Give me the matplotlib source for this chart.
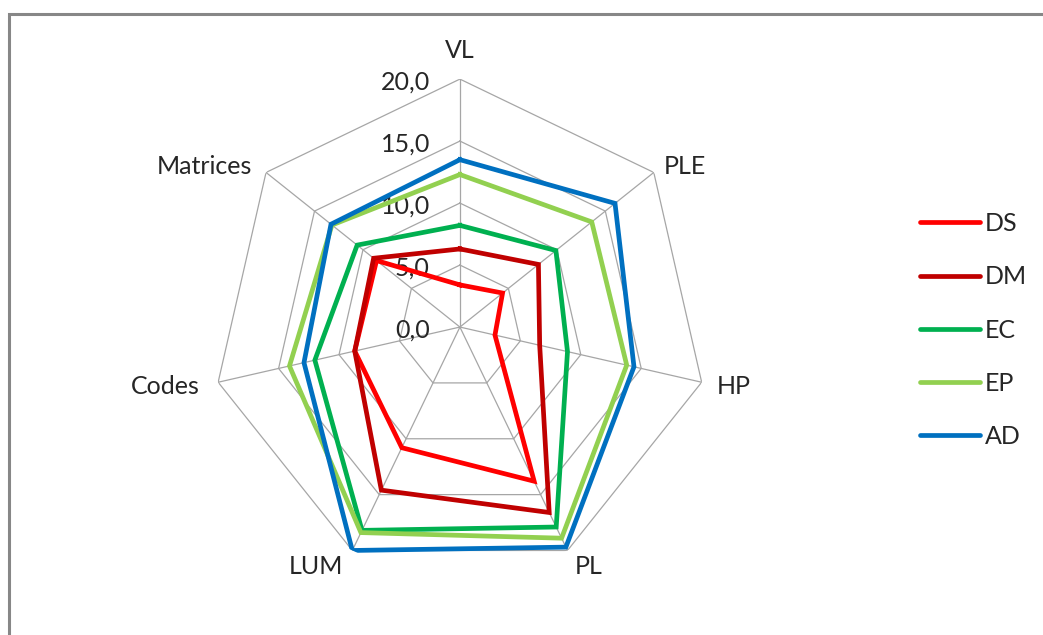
import numpy as np
import matplotlib
matplotlib.use('Agg')
import matplotlib.pyplot as plt
import matplotlib.patches as patches
from matplotlib.transforms import offset_copy

plt.rcParams['font.family'] = ['Lato', 'DejaVu Sans']

categories = ['VL', 'PLE', 'HP', 'PL', 'LUM', 'Codes', 'Matrices']
series_names = ['DS', 'DM', 'EC', 'EP', 'AD']
ds = [3.4, 4.4, 2.9, 13.8, 10.8, 8.7, 8.6]
dm = [6.3, 8.1, 6.6, 16.6, 14.6, 8.7, 8.9]
ec = [8.2, 9.9, 8.9, 17.9, 18.2, 12.0, 10.6]
ep = [12.3, 13.6, 13.8, 18.9, 18.4, 14.1, 13.2]
ad = [13.5, 16.0, 14.4, 19.7, 20.0, 12.9, 13.3]
colors = ['#FF0000', '#C00000', '#00B050', '#92D050', '#0070C0']
ticks = [0, 5, 10, 15, 20]
tick_labels = ['0,0', '5,0', '10,0', '15,0', '20,0']

FS = 18
n = len(categories)
angles = np.linspace(0, 2 * np.pi, n, endpoint=False)
closed = np.append(angles, angles[0])

fig = plt.figure(figsize=(10.43, 6.35), dpi=100)
fig.patch.set_facecolor('white')

# outer chart frame (only top and left edges visible)
frame = patches.Rectangle((9 / 1043, -0.2), 1.2, 1 - 14 / 635 + 0.2,
                          transform=fig.transFigure, fill=False,
                          edgecolor='#878787', linewidth=2.2, clip_on=False)
fig.patches.append(frame)

ax = fig.add_axes([0.2032, 0.0944, 0.4755, 0.7811], projection='polar')
ax.set_theta_offset(np.pi / 2)
ax.set_theta_direction(-1)
ax.set_ylim(0, 20)
ax.grid(False)
ax.spines['polar'].set_visible(False)
ax.set_xticks([])
ax.set_yticks([])
ax.patch.set_alpha(0)

# heptagon grid and spokes
for r in ticks[1:]:
    ax.plot(closed, [r] * (n + 1), color='#A6A6A6', lw=0.9, zorder=1)
for a in angles:
    ax.plot([a, a], [0, 20], color='#A6A6A6', lw=0.9, zorder=1)

# radial value labels along the top spoke
lbl_tr = offset_copy(ax.transData, fig=fig, x=-30, y=-3, units='dots')
for r, t in zip(ticks, tick_labels):
    ax.text(0, r, t, transform=lbl_tr, ha='right', va='center',
            fontsize=FS, color='#262626', zorder=2)

# category labels around the outside
cat_pos = [(0, 29, 'center'),
           (10, 6, 'left'),
           (15, -4, 'left'),
           (7, -16, 'left'),
           (-9, -16, 'right'),
           (-18, -4, 'right'),
           (-14, 6, 'right')]
for a, c, (dx, dy, ha) in zip(angles, categories, cat_pos):
    tr = offset_copy(ax.transData, fig=fig, x=dx, y=dy, units='dots')
    ax.text(a, 20, c, transform=tr, ha=ha, va='center', fontsize=FS,
            color='#262626')

for name, vals, col in zip(series_names, [ds, dm, ec, ep, ad], colors):
    ax.plot(closed, vals + vals[:1], color=col, lw=3.4, label=name,
            solid_joinstyle='miter', zorder=3)

leg = fig.legend(loc='upper left', bbox_to_anchor=(0.882, 0.666),
                 frameon=False, fontsize=FS, handlelength=2.4,
                 handletextpad=0.2, labelspacing=1.21,
                 borderpad=0, borderaxespad=0)
for line in leg.get_lines():
    line.set_linewidth(3.4)
    line.set_solid_capstyle('round')
for txt in leg.get_texts():
    txt.set_color('#262626')

fig.savefig('out.png', dpi=100, facecolor='white')
